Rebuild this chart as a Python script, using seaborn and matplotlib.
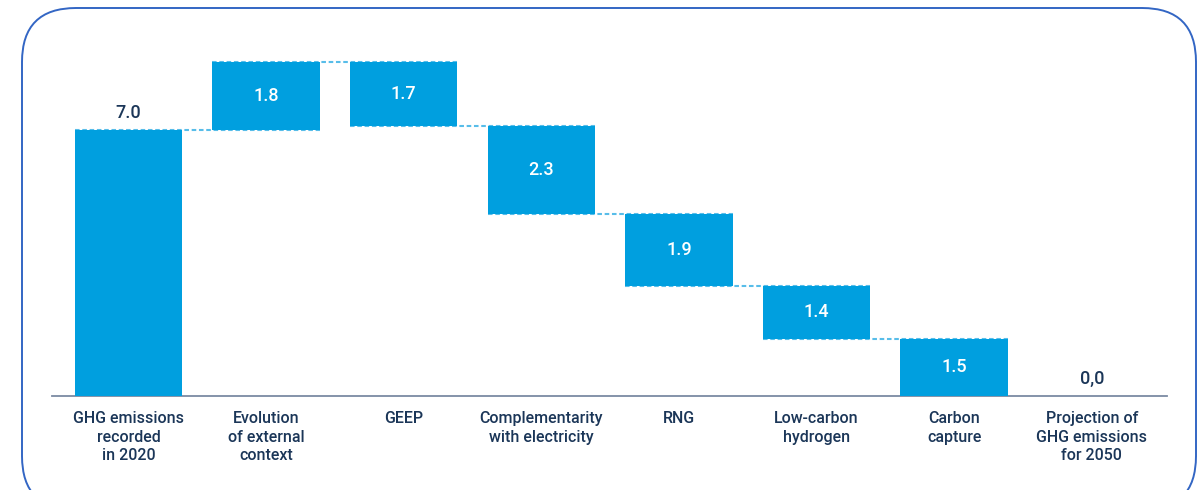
import matplotlib
matplotlib.use("Agg")
import matplotlib.pyplot as plt
from matplotlib.patches import FancyBboxPatch
import seaborn as sns
import numpy as np

# Waterfall: 2020 emissions, changes by lever, 2050 projection (Mt CO2e)
categories = [
    "GHG emissions\nrecorded\nin 2020",
    "Evolution\nof external\ncontext",
    "GEEP",
    "Complementarity\nwith electricity",
    "RNG",
    "Low-carbon\nhydrogen",
    "Carbon\ncapture",
    "Projection of\nGHG emissions\nfor 2050",
]
changes = [7.0, 1.8, -1.7, -2.3, -1.9, -1.4, -1.5, 0.0]
value_labels = ["7.0", "1.8", "1.7", "2.3", "1.9", "1.4", "1.5", "0,0"]

BAR = "#009fdf"
DASH = "#58bde9"
TEXT = "#1b3658"
AXIS = "#7b8aa3"
FRAME = "#3366c4"

sns.set_theme(style="white")
plt.rcParams["font.family"] = ["Roboto", "DejaVu Sans"]

# running totals for the floating bars
ends = np.cumsum(changes)
starts = ends - np.array(changes)
bottoms = np.minimum(starts, ends)
tops = np.maximum(starts, ends)
bottoms[0] = 0.0
tops[0] = changes[0]
bottoms[-1] = 0.0
tops[-1] = ends[-1]
heights = tops - bottoms

fig = plt.figure(figsize=(11.99, 4.9), dpi=100)
W, H = 1199, 490
ax = fig.add_axes([52 / W, (H - 396) / H, (1167 - 52) / W, (396 - 40) / H])

sns.barplot(x=categories, y=heights, color=BAR, width=0.78, saturation=1,
            errorbar=None, ax=ax, zorder=3)
for patch, b in zip(ax.patches, bottoms):
    patch.set_y(b)
    patch.set_edgecolor("none")

ax.set_xlim(-0.556, 7.547)
ax.set_ylim(0, 356 / 38)

# dashed connectors between consecutive bars
hw = 0.39
for i in range(len(changes) - 2):
    level = ends[i]
    ax.plot([i - hw, i + 1 + hw], [level, level], ls=(0, (2.2, 1.3)),
            color=DASH, lw=1.5, zorder=2)

# value labels
for i, (lab, b, t) in enumerate(zip(value_labels, bottoms, tops)):
    if i == 0 or i == len(changes) - 1:
        ax.text(i, t + 0.22, lab, ha="center", va="bottom", color=TEXT,
                fontsize=13, fontweight="medium", zorder=4)
    else:
        ax.text(i, (b + t) / 2, lab, ha="center", va="center", color="white",
                fontsize=13, fontweight="medium", zorder=4)

for s in ["top", "right", "left"]:
    ax.spines[s].set_visible(False)
ax.spines["bottom"].set_color(AXIS)
ax.spines["bottom"].set_linewidth(1.3)
ax.set_yticks([])
ax.tick_params(axis="x", length=0, pad=11, labelsize=11.5, labelcolor=TEXT)
for lbl in ax.get_xticklabels():
    lbl.set_linespacing(1.3)
    lbl.set_fontweight("medium")
ax.set_xlabel("")
ax.set_ylabel("")

# rounded frame around the chart
frame = FancyBboxPatch((22 / W, -20 / H), (1196 - 22) / W, (H - 8 + 20) / H,
                       boxstyle="round,pad=0,rounding_size=0.045",
                       transform=fig.transFigure, fill=False,
                       edgecolor=FRAME, lw=1.4, mutation_aspect=W / H)
fig.patches.append(frame)

fig.savefig("out.png", dpi=100)
